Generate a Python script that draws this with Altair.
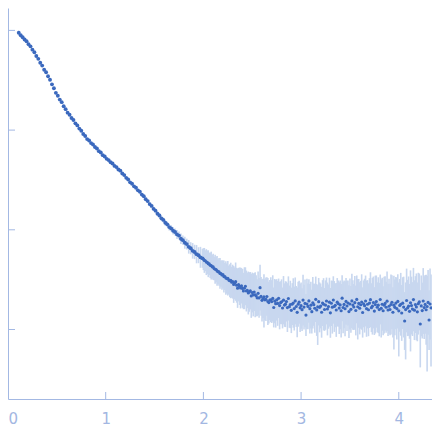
import altair as alt
import pandas as pd

# scattering vector q (low-q, smooth part)
q_low = [
    0.11, 0.13, 0.15, 0.17, 0.19, 0.21, 0.23, 0.25, 0.27, 0.29,
    0.31, 0.33, 0.35, 0.37, 0.39, 0.41, 0.43, 0.45, 0.47, 0.49,
    0.51, 0.53, 0.55, 0.57, 0.59, 0.61, 0.63, 0.65, 0.67, 0.69,
    0.71, 0.73, 0.75, 0.77, 0.79, 0.81, 0.83, 0.85, 0.87, 0.89,
    0.91, 0.93, 0.95, 0.97, 0.99, 1.01, 1.03, 1.05, 1.07, 1.09,
    1.11, 1.13, 1.15, 1.17, 1.19, 1.21, 1.23, 1.25, 1.27, 1.29,
    1.31, 1.33, 1.35, 1.37, 1.39, 1.41, 1.43, 1.45, 1.47, 1.49,
    1.51, 1.53, 1.55, 1.57, 1.59, 1.61, 1.63, 1.65, 1.67, 1.69,
    1.71, 1.73, 1.75, 1.77, 1.79, 1.81, 1.83, 1.85, 1.87, 1.89,
    1.91, 1.93, 1.95, 1.97, 1.99,
]
# log10 intensity (low-q part)
logI_low = [
    2.976, 2.951, 2.931, 2.909, 2.891, 2.862, 2.840, 2.807, 2.781, 2.743,
    2.715, 2.676, 2.647, 2.605, 2.580, 2.540, 2.505, 2.459, 2.420, 2.374,
    2.345, 2.306, 2.280, 2.239, 2.210, 2.175, 2.154, 2.121, 2.101, 2.068,
    2.047, 2.015, 1.994, 1.961, 1.941, 1.910, 1.896, 1.870, 1.856, 1.830,
    1.815, 1.789, 1.775, 1.749, 1.735, 1.712, 1.699, 1.677, 1.665, 1.641,
    1.629, 1.605, 1.593, 1.565, 1.549, 1.521, 1.504, 1.476, 1.462, 1.436,
    1.422, 1.396, 1.382, 1.353, 1.337, 1.306, 1.288, 1.258, 1.240, 1.210,
    1.192, 1.162, 1.143, 1.115, 1.099, 1.071, 1.055, 1.027, 1.014, 0.990,
    0.978, 0.954, 0.942, 0.910, 0.896, 0.870, 0.857, 0.829, 0.815, 0.789,
    0.778, 0.756, 0.745, 0.724, 0.714,
]
# error (in decades) for the low-q part
err_low = [
    0.020, 0.004, 0.003, 0.004, 0.003, 0.004, 0.004, 0.003, 0.004, 0.003,
    0.004, 0.003, 0.003, 0.004, 0.003, 0.004, 0.003, 0.004, 0.004, 0.003,
    0.004, 0.004, 0.003, 0.004, 0.005, 0.004, 0.004, 0.005, 0.004, 0.005,
    0.005, 0.004, 0.005, 0.005, 0.004, 0.005, 0.006, 0.005, 0.005, 0.006,
    0.006, 0.005, 0.006, 0.007, 0.006, 0.006, 0.007, 0.008, 0.007, 0.008,
    0.008, 0.009, 0.008, 0.010, 0.009, 0.011, 0.010, 0.012, 0.011, 0.013,
    0.012, 0.014, 0.013, 0.016, 0.015, 0.017, 0.016, 0.019, 0.018, 0.021,
    0.020, 0.024, 0.022, 0.027, 0.025, 0.030, 0.028, 0.034, 0.031, 0.038,
    0.036, 0.045, 0.040, 0.052, 0.047, 0.060, 0.054, 0.068, 0.061, 0.078,
    0.072, 0.092, 0.080, 0.105, 0.095,
]

# high-q, noisy part
q_high = [
    2.00, 2.01, 2.02, 2.03, 2.04, 2.05, 2.06, 2.07, 2.08, 2.09,
    2.10, 2.11, 2.12, 2.13, 2.14, 2.15, 2.16, 2.17, 2.18, 2.19,
    2.20, 2.21, 2.22, 2.23, 2.24, 2.25, 2.26, 2.27, 2.28, 2.29,
    2.30, 2.31, 2.32, 2.33, 2.34, 2.35, 2.36, 2.37, 2.38, 2.39,
    2.40, 2.41, 2.42, 2.43, 2.44, 2.45, 2.46, 2.47, 2.48, 2.49,
    2.50, 2.51, 2.52, 2.53, 2.54, 2.55, 2.56, 2.57, 2.58, 2.59,
    2.60, 2.61, 2.62, 2.63, 2.64, 2.65, 2.66, 2.67, 2.68, 2.69,
    2.70, 2.71, 2.72, 2.73, 2.74, 2.75, 2.76, 2.77, 2.78, 2.79,
    2.80, 2.81, 2.82, 2.83, 2.84, 2.85, 2.86, 2.87, 2.88, 2.89,
    2.90, 2.91, 2.92, 2.93, 2.94, 2.95, 2.96, 2.97, 2.98, 2.99,
    3.00, 3.01, 3.02, 3.03, 3.04, 3.05, 3.06, 3.07, 3.08, 3.09,
    3.10, 3.11, 3.12, 3.13, 3.14, 3.15, 3.16, 3.17, 3.18, 3.19,
    3.20, 3.21, 3.22, 3.23, 3.24, 3.25, 3.26, 3.27, 3.28, 3.29,
    3.30, 3.31, 3.32, 3.33, 3.34, 3.35, 3.36, 3.37, 3.38, 3.39,
    3.40, 3.41, 3.42, 3.43, 3.44, 3.45, 3.46, 3.47, 3.48, 3.49,
    3.50, 3.51, 3.52, 3.53, 3.54, 3.55, 3.56, 3.57, 3.58, 3.59,
    3.60, 3.61, 3.62, 3.63, 3.64, 3.65, 3.66, 3.67, 3.68, 3.69,
    3.70, 3.71, 3.72, 3.73, 3.74, 3.75, 3.76, 3.77, 3.78, 3.79,
    3.80, 3.81, 3.82, 3.83, 3.84, 3.85, 3.86, 3.87, 3.88, 3.89,
    3.90, 3.91, 3.92, 3.93, 3.94, 3.95, 3.96, 3.97, 3.98, 3.99,
    4.00, 4.01, 4.02, 4.03, 4.04, 4.05, 4.06, 4.07, 4.08, 4.09,
    4.10, 4.11, 4.12, 4.13, 4.14, 4.15, 4.16, 4.17, 4.18, 4.19,
    4.20, 4.21, 4.22, 4.23, 4.24, 4.25, 4.26, 4.27, 4.28, 4.29,
    4.30, 4.31, 4.32, 4.33,
]
logI_high = [
    0.706, 0.693, 0.690, 0.676, 0.674, 0.660, 0.658, 0.644, 0.641, 0.629,
    0.628, 0.612, 0.604, 0.602, 0.588, 0.580, 0.578, 0.563, 0.560, 0.547,
    0.551, 0.531, 0.532, 0.517, 0.511, 0.514, 0.496, 0.489, 0.492, 0.474,
    0.480, 0.452, 0.463, 0.480, 0.444, 0.415, 0.450, 0.434, 0.416, 0.439,
    0.412, 0.386, 0.414, 0.434, 0.386, 0.392, 0.366, 0.376, 0.389, 0.337,
    0.371, 0.347, 0.376, 0.349, 0.339, 0.318, 0.363, 0.317, 0.420, 0.332,
    0.293, 0.310, 0.327, 0.298, 0.303, 0.331, 0.281, 0.270, 0.296, 0.298,
    0.280, 0.312, 0.221, 0.285, 0.259, 0.297, 0.262, 0.313, 0.240, 0.269,
    0.278, 0.216, 0.294, 0.245, 0.254, 0.280, 0.220, 0.311, 0.229, 0.251,
    0.192, 0.255, 0.266, 0.210, 0.287, 0.231, 0.172, 0.253, 0.274, 0.217,
    0.239, 0.199, 0.295, 0.225, 0.262, 0.145, 0.256, 0.232, 0.287, 0.209,
    0.244, 0.179, 0.268, 0.249, 0.213, 0.303, 0.196, 0.227, 0.279, 0.222,
    0.236, 0.173, 0.265, 0.253, 0.201, 0.245, 0.286, 0.206, 0.230, 0.274,
    0.167, 0.263, 0.224, 0.296, 0.231, 0.243, 0.196, 0.274, 0.260, 0.215,
    0.247, 0.188, 0.314, 0.221, 0.252, 0.208, 0.282, 0.236, 0.266, 0.180,
    0.256, 0.202, 0.287, 0.245, 0.226, 0.269, 0.191, 0.302, 0.228, 0.262,
    0.213, 0.248, 0.276, 0.171, 0.257, 0.239, 0.286, 0.209, 0.253, 0.198,
    0.265, 0.299, 0.219, 0.234, 0.271, 0.185, 0.250, 0.280, 0.223, 0.244,
    0.200, 0.301, 0.212, 0.253, 0.188, 0.244, 0.262, 0.223, 0.284, 0.196,
    0.233, 0.201, 0.251, 0.273, 0.173, 0.244, 0.222, 0.265, 0.210, 0.282,
    0.187, 0.242, 0.253, 0.166, 0.264, 0.225, 0.085, 0.200, 0.291, 0.216,
    0.234, 0.182, 0.268, 0.240, 0.205, 0.300, 0.194, 0.250, 0.227, 0.177,
    0.259, 0.277, 0.055, 0.237, 0.190, 0.286, 0.220, 0.252, 0.198, 0.231,
    0.272, 0.095, 0.256, 0.217,
]
err_high = [
    0.110, 0.125, 0.105, 0.130, 0.118, 0.135, 0.112, 0.128, 0.140, 0.120,
    0.132, 0.118, 0.145, 0.128, 0.150, 0.125, 0.138, 0.155, 0.130, 0.148,
    0.140, 0.160, 0.135, 0.168, 0.150, 0.172, 0.145, 0.165, 0.178, 0.155,
    0.170, 0.185, 0.160, 0.192, 0.175, 0.198, 0.168, 0.188, 0.205, 0.178,
    0.195, 0.182, 0.210, 0.190, 0.205, 0.178, 0.215, 0.198, 0.188, 0.220,
    0.200, 0.215, 0.190, 0.225, 0.205, 0.185, 0.220, 0.200, 0.230, 0.195,
    0.212, 0.198, 0.228, 0.205, 0.218, 0.192, 0.235, 0.210, 0.200, 0.225,
    0.215, 0.232, 0.200, 0.222, 0.240, 0.208, 0.225, 0.198, 0.238, 0.215,
    0.225, 0.205, 0.242, 0.218, 0.230, 0.200, 0.245, 0.222, 0.212, 0.238,
    0.228, 0.210, 0.248, 0.220, 0.235, 0.205, 0.250, 0.225, 0.215, 0.242,
    0.232, 0.215, 0.255, 0.225, 0.240, 0.210, 0.252, 0.230, 0.218, 0.248,
    0.235, 0.220, 0.258, 0.212, 0.245, 0.228, 0.260, 0.218, 0.238, 0.250,
    0.225, 0.255, 0.230, 0.262, 0.215, 0.248, 0.235, 0.265, 0.222, 0.245,
    0.250, 0.228, 0.265, 0.238, 0.255, 0.220, 0.270, 0.242, 0.232, 0.260,
    0.245, 0.268, 0.230, 0.258, 0.240, 0.275, 0.235, 0.252, 0.225, 0.265,
    0.255, 0.235, 0.272, 0.248, 0.230, 0.268, 0.250, 0.240, 0.278, 0.245,
    0.262, 0.240, 0.278, 0.252, 0.235, 0.270, 0.255, 0.282, 0.242, 0.265,
    0.250, 0.275, 0.245, 0.285, 0.260, 0.240, 0.290, 0.262, 0.250, 0.280,
    0.268, 0.250, 0.292, 0.265, 0.245, 0.285, 0.272, 0.255, 0.298, 0.262,
    0.275, 0.258, 0.300, 0.270, 0.252, 0.295, 0.280, 0.262, 0.310, 0.272,
    0.285, 0.265, 0.315, 0.280, 0.260, 0.305, 0.290, 0.272, 0.320, 0.282,
    0.298, 0.275, 0.325, 0.290, 0.270, 0.318, 0.300, 0.285, 0.335, 0.295,
    0.310, 0.285, 0.340, 0.305, 0.280, 0.330, 0.315, 0.295, 0.350, 0.308,
    0.325, 0.300, 0.355, 0.335,
]
# a few error bars reaching further down
spike_q = [2.62, 3.17, 3.58, 3.95, 4.00, 4.07, 4.12, 4.22, 4.29, 4.33]
spike_lo = [0.02, -0.155, -0.10, -0.20, -0.27, -0.30, -0.22, -0.38, -0.42, -0.37]

x_ticks = [0, 1, 2, 3, 4]
y_ticks = [0, 1, 2, 3]

AX = "#a3b8e3"
LAB = "#a3b7e2"
W, H = 424, 391

spikes = {round(a, 2): b for a, b in zip(spike_q, spike_lo)}


def build(qs, ls, es):
    rows = []
    for qi, li, ei in zip(qs, ls, es):
        lo = li - ei
        if round(qi, 2) in spikes:
            lo = min(lo, spikes[round(qi, 2)])
        rows.append({"q": qi, "L": li, "lo": lo, "hi": li + ei})
    return pd.DataFrame(rows)


df_low = build(q_low, logI_low, err_low)
df_high = build(q_high, logI_high, err_high)
df = pd.concat([df_low, df_high], ignore_index=True)

xs = alt.Scale(domain=[0, 4.34], nice=False, zero=False)
ys = alt.Scale(domain=[-0.697, 3.2247], nice=False, zero=False)
xax = alt.Axis(values=x_ticks, ticks=False, tickSize=0, grid=False, domainColor=AX,
               domainWidth=1, labelColor=LAB, labelFont="DejaVu Sans", labelFontSize=15,
               labelPadding=12, title=None, format="d", labelFlush=True)
yax = alt.Axis(values=y_ticks, labels=False, ticks=False, tickSize=0, grid=False,
               domainColor=AX, domainWidth=1, title=None)

bars = alt.Chart(df).mark_rule(color="#c8d7ef", strokeWidth=1.6).encode(
    x=alt.X("q:Q", scale=xs, axis=xax),
    y=alt.Y("lo:Q", scale=ys, axis=yax),
    y2="hi:Q",
)
pts_low = alt.Chart(df_low).mark_circle(size=15, color="#3b69be", opacity=1).encode(
    x=alt.X("q:Q", scale=xs, axis=xax),
    y=alt.Y("L:Q", scale=ys, axis=yax),
)
pts_high = alt.Chart(df_high).mark_circle(size=10, color="#3b69be", opacity=1).encode(
    x=alt.X("q:Q", scale=xs, axis=xax),
    y=alt.Y("L:Q", scale=ys, axis=yax),
)
xt = alt.Chart(pd.DataFrame({"q": x_ticks})).mark_rule(color=AX, strokeWidth=1).encode(
    x=alt.X("q:Q", scale=xs, axis=xax),
    y=alt.value(H),
    y2=alt.value(H - 7),
)
yt = alt.Chart(pd.DataFrame({"L": y_ticks})).mark_rule(color=AX, strokeWidth=1).encode(
    y=alt.Y("L:Q", scale=ys, axis=yax),
    x=alt.value(0),
    x2=alt.value(7),
)

chart = alt.layer(bars, pts_low, pts_high, xt, yt).properties(
    width=W,
    height=H,
    autosize=alt.AutoSizeParams(type="none"),
    padding={"left": 0, "top": 0, "right": 0, "bottom": 30},
).configure_view(stroke=None)

chart.save("out.html", embed_options={"renderer": "svg", "actions": False})
